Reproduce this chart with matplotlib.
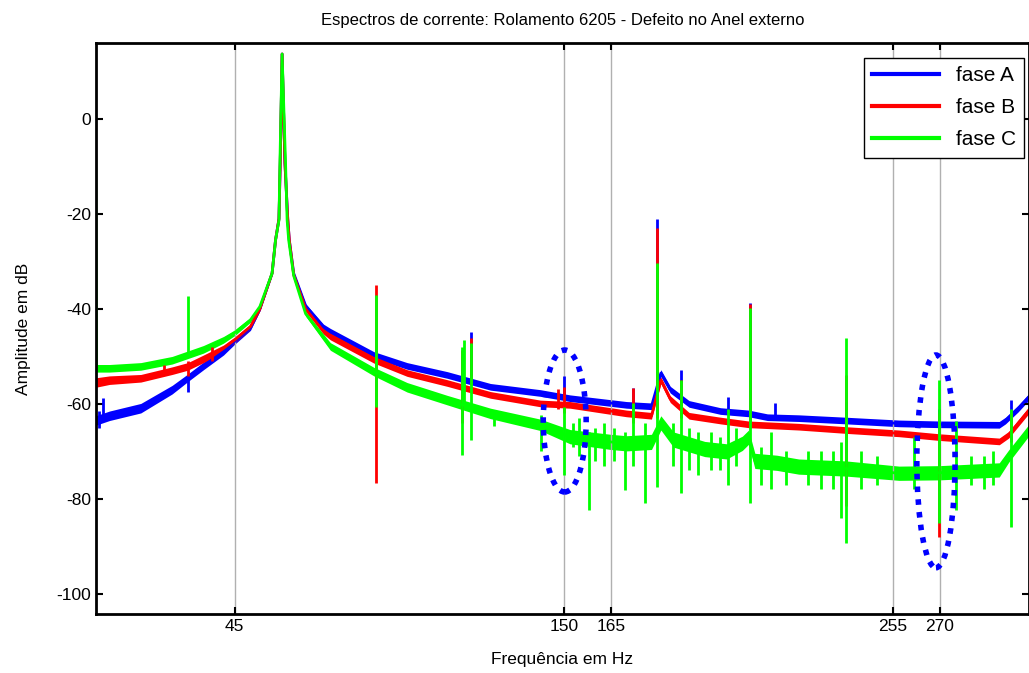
import numpy as np
import matplotlib

matplotlib.use('Agg')
import matplotlib.pyplot as plt
from matplotlib.patches import Ellipse

plt.rcParams['font.family'] = ['Liberation Sans', 'DejaVu Sans']
plt.rcParams['axes.unicode_minus'] = False

# baseline of each spectrum: (frequency Hz, level dB, noise half-width dB)
fase_a = [
    (0.6, -63.5, 1.0), (5, -62.5, 1.0), (15, -60.9, 1.0), (25, -57.0, 0.9),
    (30, -54.5, 0.8), (35, -52.0, 0.8), (41.4, -49.0, 0.7), (45, -46.8, 0.6),
    (50, -44.0, 0.5), (53, -40.0, 0.4), (56.9, -32.5, 0.3), (58, -25.5, 0.3),
    (59.1, -21.0, 0.2), (59.5, -9.3, 0.1), (60.1, 13.7, 0.1), (61.0, -9.3, 0.1),
    (61.9, -21.0, 0.2), (62.4, -25.5, 0.3), (63.8, -32.5, 0.3), (67.6, -39.3, 0.4),
    (73.3, -43.8, 0.6), (75.5, -44.8, 0.7), (89.4, -49.7, 0.7), (100, -52.0, 0.7),
    (112.8, -53.9, 0.7), (126.6, -56.4, 0.7), (142.5, -57.7, 0.7), (152, -58.8, 0.7),
    (170, -60.2, 0.7), (178, -60.5, 0.7), (181, -53.5, 0.7), (184, -57.0, 0.7),
    (190, -60.0, 0.7), (200, -61.5, 0.7), (209, -62.0, 0.7), (215, -62.8, 0.7),
    (225, -63.0, 0.7), (240, -63.5, 0.7), (257, -64.1, 0.7), (270, -64.3, 0.7),
    (289, -64.4, 0.7), (291, -63.5, 0.7), (295, -61.0, 0.7), (298.5, -58.5, 0.7),
]
fase_b = [
    (0.6, -55.5, 1.0), (5, -55.0, 0.9), (15, -54.6, 0.8), (25, -53.0, 0.8),
    (30, -52.1, 0.8), (35, -50.5, 0.8), (41.4, -48.3, 0.7), (45, -46.5, 0.6),
    (50, -43.7, 0.5), (53, -40.0, 0.4), (56.9, -32.5, 0.3), (58, -25.5, 0.3),
    (59.1, -21.0, 0.2), (59.5, -9.3, 0.1), (60.1, 13.7, 0.1), (61.0, -9.3, 0.1),
    (61.9, -21.0, 0.2), (62.4, -25.5, 0.3), (63.8, -32.8, 0.3), (67.6, -40.0, 0.4),
    (73.3, -44.7, 0.6), (75.5, -45.8, 0.7), (89.4, -50.7, 0.7), (100, -53.5, 0.7),
    (112.8, -55.6, 0.7), (126.6, -58.1, 0.7), (142.5, -59.9, 0.7), (152, -60.2, 0.7),
    (170, -62.0, 0.7), (178, -62.5, 0.7), (181, -55.0, 0.7), (184, -59.0, 0.7),
    (190, -62.5, 0.7), (200, -63.5, 0.7), (209, -64.3, 0.7), (225, -64.8, 0.7),
    (240, -65.5, 0.7), (257, -66.2, 0.7), (270, -67.0, 0.7), (289, -67.9, 0.7),
    (292, -66.5, 0.7), (298.5, -61.3, 0.7),
]
fase_c = [
    (0.6, -7.6, 0.2), (0.9, -52.5, 0.8), (5, -52.5, 0.8), (15, -52.1, 0.8),
    (25, -50.8, 0.8), (29.8, -49.7, 0.8), (35, -48.5, 0.8), (41.4, -46.5, 0.7),
    (45, -45.0, 0.6), (50, -42.3, 0.5), (53, -39.5, 0.4), (56.9, -32.5, 0.3),
    (58, -25.5, 0.3), (59.1, -21.3, 0.2), (59.4, -9.3, 0.1), (60.1, 13.7, 0.1),
    (61.2, -9.3, 0.1), (61.7, -21.3, 0.2), (62.2, -25.5, 0.3), (63.8, -33.0, 0.3),
    (67.6, -41.0, 0.5), (73.3, -46.0, 0.7), (75.5, -47.9, 0.8), (89.4, -53.2, 0.9),
    (100, -56.5, 1.0), (112.8, -59.2, 1.0), (126.6, -62.0, 1.1), (142.5, -64.4, 1.2),
    (152, -66.9, 1.5), (165, -68.0, 1.6), (170, -68.3, 1.6), (178, -68.0, 1.6),
    (181, -64.0, 1.5), (185, -67.5, 1.6), (195, -69.5, 1.6), (202, -70.0, 1.6),
    (207, -68.3, 1.5), (209, -67.0, 1.5), (211, -72.0, 1.6), (218, -72.4, 1.6),
    (225, -73.2, 1.6), (240, -73.6, 1.6), (257, -74.6, 1.5), (270, -74.5, 1.5),
    (289, -73.9, 1.5), (292, -71.0, 1.3), (298.5, -65.5, 1.2),
]

# narrow components: (frequency Hz, top dB, bottom dB)
spikes_a = [
    (1.5, -61.5, -65.0), (3, -58.8, -63.0), (30.1, -54.5, -57.4), (117.5, -50.0, -54.0),
    (120.4, -44.8, -54.0), (150.2, -54.2, -59.0), (172.2, -56.6, -60.5), (179.8, -21.1, -61.0),
    (187.4, -52.8, -61.0), (202.4, -58.5, -62.0), (209.4, -38.7, -63.0), (217.5, -59.9, -63.0),
    (240.0, -59.5, -64.0), (269.9, -61.0, -65.0), (292.6, -59.2, -64.0),
]
spikes_b = [
    (22.4, -51.8, -54.0), (30.1, -51.0, -54.2), (37.8, -48.0, -51.0), (90.2, -34.9, -76.7),
    (117.4, -48.6, -64.0), (120.4, -46.2, -56.0), (148.3, -56.8, -61.0), (150.2, -56.4, -62.0),
    (172.2, -56.6, -64.0), (179.8, -23.0, -63.0), (187.4, -55.0, -63.0), (209.4, -39.0, -65.0),
    (240.1, -53.9, -81.6), (269.9, -62.0, -88.0), (292.6, -62.0, -68.0),
]
spikes_c = [
    (30.1, -37.3, -50.0), (90.2, -37.0, -60.6), (117.6, -48.0, -70.7), (118.1, -46.5, -60.0),
    (120.4, -47.1, -67.6), (127.7, -61.5, -64.6), (142.7, -62.4, -70.0), (150.2, -60.6, -74.9),
    (153.0, -64.0, -69.0), (155.0, -63.0, -71.0), (157.9, -66.0, -82.3), (160.0, -65.0, -72.0),
    (163.0, -64.0, -73.0), (166.0, -65.0, -72.0), (169.4, -66.0, -78.1), (172.2, -59.8, -73.0),
    (176.0, -64.0, -80.8), (179.8, -30.4, -77.4), (185.0, -64.0, -73.0), (187.4, -55.0, -78.8),
    (190.0, -65.0, -74.0), (193.0, -66.0, -75.0), (197.0, -66.0, -74.0), (200.0, -67.0, -74.0),
    (202.4, -61.0, -77.0), (205.0, -65.0, -73.0), (209.4, -39.8, -80.8), (213.0, -69.0, -77.0),
    (216.2, -66.0, -78.0), (221.0, -70.0, -77.0), (228.0, -70.0, -77.0), (232.0, -70.0, -78.0),
    (236.0, -70.0, -78.0), (238.5, -68.0, -84.0), (240.1, -46.2, -89.3), (245.0, -70.0, -78.0),
    (250.0, -71.0, -77.0), (261.7, -66.9, -78.0), (269.9, -55.0, -85.0), (275.3, -63.6, -82.3),
    (280.0, -71.0, -77.0), (284.0, -71.0, -78.0), (287.0, -70.0, -77.0), (292.6, -61.0, -86.0),
]

labels = ['fase A', 'fase B', 'fase C']
colors = ['#0000ff', '#ff0000', '#00ff00']
xticks = [45, 150, 165, 255, 270]
yticks = [-100, -80, -60, -40, -20, 0]

fig = plt.figure(figsize=(10.29, 6.73), dpi=100)
ax = fig.add_axes([0.093, 0.088, 0.907, 0.848])

for data, spikes, color, label in zip([fase_a, fase_b, fase_c],
                                      [spikes_a, spikes_b, spikes_c], colors, labels):
    f, v, s = np.array(data).T
    ax.fill_between(f, v - s, v + s, color=color, lw=0)
    ax.plot(f, v, color=color, lw=2.0, label=label)
    sf, top, bot = np.array(spikes).T
    ax.vlines(sf, bot, top, color=color, lw=2.0)

# dotted ellipses marking the fault frequencies
for cx, cy, w, h in [(150.3, -63.6, 13.7, 29.9), (268.8, -72.1, 12.2, 44.8)]:
    ax.add_patch(Ellipse((cx, cy), w, h, fill=False, ec='#0000ff', lw=4,
                         ls=(0, (1, 1.3)), zorder=5))

ax.set_xlim(0.6, 298.5)
ax.set_ylim(-104.2, 16)
ax.set_xticks(xticks)
ax.set_yticks(yticks)
ax.grid(axis='x', color='#b0b0b0', lw=1)
ax.tick_params(direction='in', length=5, width=1.5, top=True, right=True, labelsize=12.5)
for sp in ax.spines.values():
    sp.set_linewidth(2)

ax.set_title('Espectros de corrente: Rolamento 6205 - Defeito no Anel externo',
             fontsize=12, pad=13)
ax.set_xlabel('Frequência em Hz', fontsize=12.5, labelpad=13)
ax.set_ylabel('Amplitude em dB', fontsize=12.5, labelpad=18)

leg = ax.legend(loc='upper right', bbox_to_anchor=(0.9946, 0.9737), borderaxespad=0,
                fontsize=15, frameon=True, fancybox=False, edgecolor='black',
                handlelength=3.2, borderpad=0.4, labelspacing=0.62, framealpha=1)
leg.get_frame().set_linewidth(1)
for line in leg.get_lines():
    line.set_linewidth(3)

fig.savefig('out.png', dpi=100)
